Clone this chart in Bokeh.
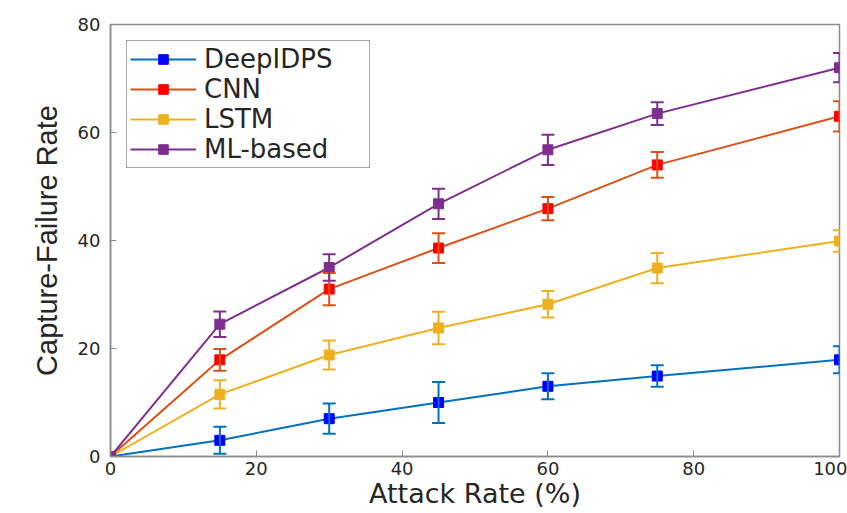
import numpy as np
from bokeh.plotting import figure
from bokeh.models import (ColumnDataSource, Whisker, TeeHead, Legend, LegendItem,
                          Range1d, FixedTicker)
from bokeh.embed import file_html
from bokeh.resources import INLINE

# ---- data ----
attack_rate = [0, 15, 30, 45, 60, 75, 100]
x_ticks = [0, 20, 40, 60, 80, 100]
y_ticks = [0, 20, 40, 60, 80]

deepidps = [0, 3.0, 7.0, 10.0, 13.0, 14.9, 17.9]
deepidps_err = [0, 2.5, 2.8, 3.8, 2.4, 2.0, 2.5]
cnn = [0, 17.9, 31.0, 38.6, 45.9, 54.0, 63.0]
cnn_err = [0, 2.0, 3.0, 2.75, 2.15, 2.4, 2.8]
lstm = [0, 11.5, 18.8, 23.8, 28.2, 34.9, 39.9]
lstm_err = [0, 2.6, 2.7, 3.0, 2.45, 2.8, 2.0]
ml_based = [0, 24.5, 35.0, 46.8, 56.8, 63.5, 72.0]
ml_based_err = [0, 2.35, 2.45, 2.8, 2.8, 2.1, 2.7]

series = [
    ("DeepIDPS", deepidps, deepidps_err, "#0072BD", "#0000FF"),
    ("CNN", cnn, cnn_err, "#D95319", "#FF0000"),
    ("LSTM", lstm, lstm_err, "#EDB120", "#EDB120"),
    ("ML-based", ml_based, ml_based_err, "#7E2F8E", "#7E2F8E"),
]

AXIS_COLOR = "#8c8c8c"
TEXT_COLOR = "#262626"
FONT = "DejaVu Sans"

p = figure(width=847, height=513, output_backend="svg", toolbar_location=None,
           x_range=Range1d(0, 100), y_range=Range1d(0, 80),
           min_border_left=110, min_border_right=8, min_border_top=24,
           min_border_bottom=57)
p.grid.visible = False
p.outline_line_color = AXIS_COLOR
p.outline_line_width = 1.5
p.background_fill_color = "white"
p.border_fill_color = "white"

for ax in (p.xaxis[0], p.yaxis[0]):
    ax.axis_line_color = AXIS_COLOR
    ax.axis_line_width = 1.5
    ax.major_tick_line_color = AXIS_COLOR
    ax.major_tick_in = 6
    ax.major_tick_out = 0
    ax.minor_tick_line_color = None
    ax.major_label_text_font = FONT
    ax.major_label_text_font_size = "18px"
    ax.major_label_text_color = TEXT_COLOR
    ax.axis_label_text_font_style = "normal"
    ax.axis_label_text_color = TEXT_COLOR

p.xaxis[0].ticker = FixedTicker(ticks=x_ticks)
p.yaxis[0].ticker = FixedTicker(ticks=y_ticks)
p.xaxis[0].axis_label = "Attack Rate (%)"
p.xaxis[0].axis_label_text_font = FONT
p.xaxis[0].axis_label_text_font_size = "27px"
p.yaxis[0].axis_label = "Capture-Failure Rate"
p.yaxis[0].axis_label_text_font = "Liberation Sans"
p.yaxis[0].axis_label_text_font_size = "29px"
p.xaxis[0].major_label_standoff = 5
p.xaxis[0].axis_label_standoff = 0
p.yaxis[0].major_label_standoff = 10
p.yaxis[0].axis_label_standoff = 12

items = []
for name, vals, errs, lcol, mcol in series:
    src = ColumnDataSource(dict(x=attack_rate, y=vals))
    xe = [x for x, e in zip(attack_rate, errs) if e > 0]
    lo = [v - e for v, e in zip(vals, errs) if e > 0]
    hi = [v + e for v, e in zip(vals, errs) if e > 0]
    wsrc = ColumnDataSource(dict(x=xe, lower=lo, upper=hi))
    w = Whisker(source=wsrc, base="x", lower="lower", upper="upper",
                line_color=lcol, line_width=2,
                upper_head=TeeHead(size=13, line_color=lcol, line_width=2),
                lower_head=TeeHead(size=13, line_color=lcol, line_width=2),
                level="glyph")
    p.add_layout(w)
    r_line = p.line("x", "y", source=src, line_color=lcol, line_width=2)
    r_mark = p.scatter("x", "y", source=src, marker="square", size=10,
                       fill_color=mcol, line_color=mcol)
    items.append(LegendItem(label=name, renderers=[r_line, r_mark]))

legend = Legend(items=items, location="top_left", margin=16,
                glyph_width=66, glyph_height=24, label_standoff=8,
                label_width=162, padding=3, spacing=0,
                label_text_font=FONT, label_text_font_size="26px",
                label_text_color=TEXT_COLOR,
                border_line_color="#555555", border_line_width=1.2,
                background_fill_color="white", background_fill_alpha=1)
p.add_layout(legend, "center")

open("out.html", "w").write(file_html(p, INLINE))
